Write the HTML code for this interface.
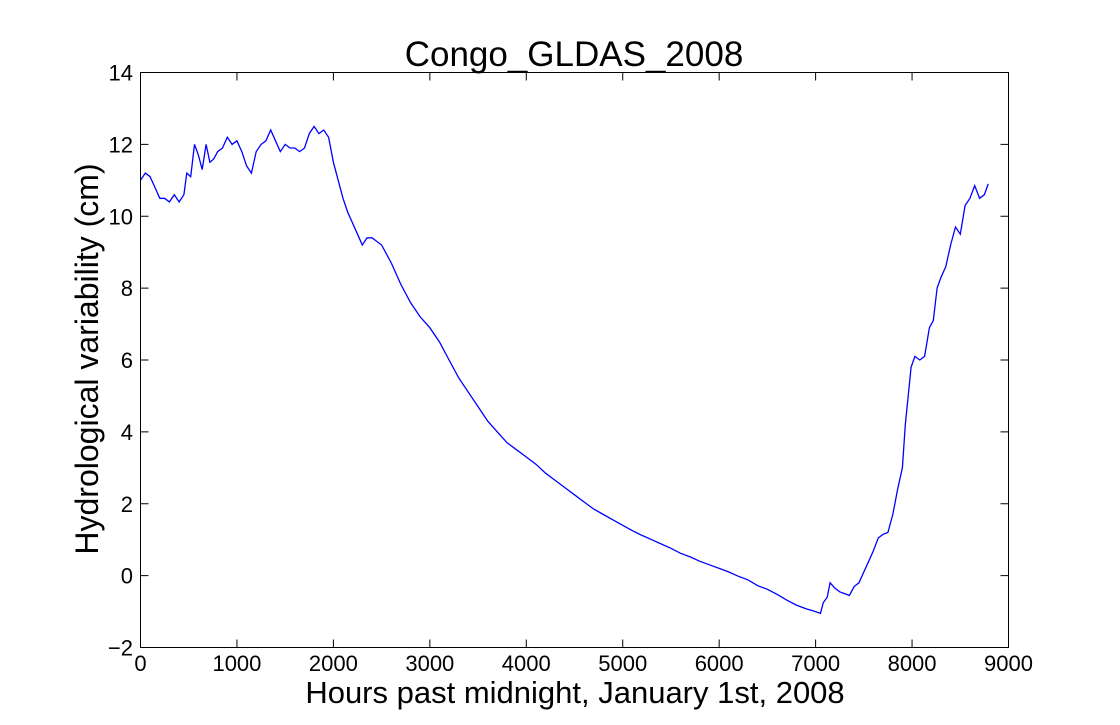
<!DOCTYPE html>
<html><head><meta charset="utf-8"><style>
body{margin:0;background:#fff;}
svg text{font-family:"Liberation Sans",sans-serif;fill:#000;}
</style></head><body>
<svg id="chart" width="1120" height="720">
<text x="574" y="66" font-size="35" text-anchor="middle">Congo_GLDAS_2008</text>
<text x="575" y="703" font-size="31" text-anchor="middle">Hours past midnight, January 1st, 2008</text>
<text transform="translate(98,359) rotate(-90)" font-size="32" text-anchor="middle">Hydrological variability (cm)</text>
<g id="ticks"></g>
<polyline id="line" fill="none" stroke="#0000ff" stroke-width="1.3"/>
<rect x="140.5" y="72.5" width="868" height="575" fill="none" stroke="#000" stroke-width="1"/>
</svg>
<script>
const hours=[0,50,100,150,200,250,300,350,400,450,480,520,560,600,640,680,720,760,800,850,900,950,1000,1050,1100,1150,1200,1250,1300,1350,1400,1450,1500,1550,1600,1650,1700,1750,1800,1850,1900,1950,2000,2050,2100,2150,2200,2250,2300,2350,2400,2450,2500,2600,2700,2800,2900,3000,3100,3200,3300,3400,3500,3600,3700,3800,3900,4000,4100,4200,4300,4400,4500,4600,4700,4800,4900,5000,5100,5200,5300,5400,5500,5600,5700,5800,5900,6000,6100,6200,6300,6400,6500,6600,6700,6800,6900,7000,7050,7080,7120,7150,7200,7250,7300,7350,7400,7450,7500,7550,7600,7650,7700,7750,7800,7850,7900,7930,7960,7990,8030,8080,8130,8180,8220,8260,8300,8350,8400,8450,8500,8550,8600,8650,8700,8750,8790];
const values=[11.0,11.2,11.1,10.8,10.5,10.5,10.4,10.6,10.4,10.6,11.2,11.1,12.0,11.7,11.3,12.0,11.5,11.6,11.8,11.9,12.2,12.0,12.1,11.8,11.4,11.2,11.8,12.0,12.1,12.4,12.1,11.8,12.0,11.9,11.9,11.8,11.9,12.3,12.5,12.3,12.4,12.2,11.5,11.0,10.5,10.1,9.8,9.5,9.2,9.4,9.4,9.3,9.2,8.7,8.1,7.6,7.2,6.9,6.5,6.0,5.5,5.1,4.7,4.3,4.0,3.7,3.5,3.3,3.1,2.85,2.65,2.45,2.25,2.05,1.85,1.7,1.55,1.4,1.25,1.12,1.0,0.88,0.76,0.62,0.52,0.4,0.3,0.2,0.1,-0.02,-0.12,-0.28,-0.38,-0.52,-0.68,-0.82,-0.92,-1.0,-1.05,-0.75,-0.6,-0.2,-0.35,-0.45,-0.5,-0.55,-0.3,-0.2,0.1,0.4,0.7,1.05,1.15,1.2,1.7,2.4,3.0,4.2,5.0,5.8,6.1,6.0,6.1,6.9,7.1,8.0,8.3,8.6,9.2,9.7,9.5,10.3,10.5,10.85,10.5,10.6,10.9];
const xTicks=[0,1000,2000,3000,4000,5000,6000,7000,8000,9000];
const yTicks=[-2,0,2,4,6,8,10,12,14];
const X=v=>140.5+v/9000*868, Y=v=>647.5-(v+2)/16*575;
const ns="http://www.w3.org/2000/svg", g=document.getElementById('ticks');
function mk(t,a){const e=document.createElementNS(ns,t);for(const k in a)e.setAttribute(k,a[k]);g.appendChild(e);return e;}
xTicks.forEach(v=>{const x=X(v);
 mk('line',{x1:x,x2:x,y1:647.5,y2:639.5,stroke:'#000'});mk('line',{x1:x,x2:x,y1:72.5,y2:80.5,stroke:'#000'});
 const t=mk('text',{x:x,y:671,'font-size':22,'text-anchor':'middle'});t.textContent=v;
 
 });
yTicks.forEach(v=>{const y=Y(v);
 mk('line',{x1:140.5,x2:148.5,y1:y,y2:y,stroke:'#000'});mk('line',{x1:1008.5,x2:1000.5,y1:y,y2:y,stroke:'#000'});
 const t=mk('text',{x:133,y:y+8,'font-size':22,'text-anchor':'end'});t.textContent=(v<0?'\u2212'+(-v):v);
 
 });
document.getElementById('line').setAttribute('points',hours.map((h,i)=>X(h).toFixed(1)+','+Y(values[i]).toFixed(1)).join(' '));
</script>
</body></html>
